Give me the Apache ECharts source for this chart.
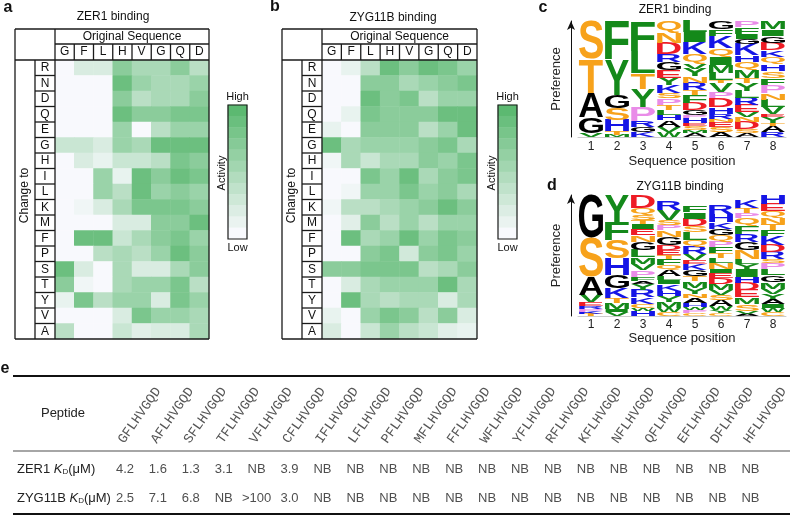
<!DOCTYPE html>
<html><head><meta charset="utf-8">
<script src="https://cdn.jsdelivr.net/npm/echarts@6/dist/echarts.min.js"></script>
<style>html,body{margin:0;padding:0;background:#fff}#c{width:791px;height:516px}</style>
</head><body><div id="c"></div>
<script>
// ---------------- data ----------------
const originalSeq = ['G','F','L','H','V','G','Q','D'];
const changeTo = ['R','N','D','Q','E','G','H','I','L','K','M','F','P','S','T','Y','V','A'];
const zer1Activity = [
  [0,2,2,7,5,5,7,4],
  [0,0,0,9,6,5,5,6],
  [0,0,0,7,4,5,5,7],
  [0,0,0,9,7,7,8,8],
  [0,0,0,6,0,4,6,6],
  [3,3,2,6,5,9,9,9],
  [0,2,1,3,3,4,8,7],
  [0,0,6,1,9,7,9,8],
  [0,0,6,4,9,6,7,6],
  [0,0.5,2,5,8,8,8,7],
  [0,0,0,2,2,7,7,9],
  [0,9,9,3,5,7,8,6],
  [0,0,4,5,4,6,9,7],
  [9,2,0,5,2,2,5,7],
  [7,0.5,0,5,6,6,8,4],
  [1,8,4,6,6,2,8,6],
  [0,0,0,2,8,6,6,5],
  [4,0,0,3,1.5,2,2,5]
];
const zyg11bActivity = [
  [0,1,4,9,7,9,8,6],
  [0,0,7,7,5,6,7,8],
  [0,0,9,7,8,4,6,6],
  [0,1,8,7,7,7,9,9],
  [1,0,7,7,7,4,6,9],
  [9,5,6,6,6,7,8,5],
  [0.5,5,3,5,5,7,6,8],
  [0,0,8,6,9,5,7,8],
  [0,0.5,6,6,8,6,7,5],
  [0.5,4,4,5,6,7,9,7],
  [0,1.5,7,4,6,4,6,6],
  [0,9,5,6,9,6,8,7],
  [0,0,7,8,2.5,7,8,6],
  [7,7,8,8,8,4,5,7],
  [0,2,5,6,6,6,9,5],
  [0,9,5,4,5,5,2,5],
  [1,0,6,8,7,4,7,2],
  [2,0,3,6,4,3,1.5,1]
];
const colorbarLevels = [10,9.1,8.2,7.3,6.4,5.5,4.5,3.6,2.7,1.8,0.9,0];
const logoPositions = ['1','2','3','4','5','6','7','8'];
// each position: letters listed top -> bottom, [letter, height]
const zer1Logo1 = [['S',38],['T',34],['A',24],['G',16],['V',4]];
const zer1Logo2 = [['F',39],['Y',35],['G',13],['S',12],['H',11],['T',4],['M',2]];
const zer1Logo3 = [['F',30],['L',22],['T',16],['Y',18],['P',14],['R',6],['G',5],['K',5]];
const zer1Logo4 = [['Q',12],['N',10],['D',11],['R',8],['G',8],['E',8],['Y',7],['K',8],['S',5],['P',7],['T',5],['L',5],['H',5],['A',7],['V',5],['W',5]];
const zer1Logo5 = [['L',11],['I',10],['K',12],['Q',10],['V',5],['Y',7],['N',7],['R',7],['T',5],['F',8],['D',7],['G',5],['P',3],['H',5],['E',3],['S',4],['M',3],['A',4]];
const zer1Logo6 = [['G',8],['F',7],['K',12],['Q',9],['I',8],['M',8],['L',7],['T',3],['V',9],['P',6],['D',9],['H',7],['R',5],['N',3],['E',5],['S',5],['A',5]];
const zer1Logo7 = [['P',6],['F',7],['I',5],['G',5],['K',11],['H',7],['Q',8],['M',8],['T',5],['Y',8],['L',7],['R',7],['E',7],['V',5],['N',5],['D',7],['S',4],['A',4]];
const zer1Logo8 = [['M',8],['I',7],['G',7],['D',7],['K',7],['Q',7],['H',7],['S',7],['F',7],['P',8],['N',7],['L',7],['V',7],['E',3],['Y',6],['T',3],['A',6],['R',5]];
const zyg11bLogo1 = [['G',43],['S',39],['A',18],['V',7],['E',4],['R',3],['P',3],['K',2],['T',2]];
const zyg11bLogo2 = [['Y',27],['F',18],['S',18],['H',17],['G',13],['K',10],['T',5],['M',6],['I',3],['V',4]];
const zyg11bLogo3 = [['D',13],['Q',7],['S',5],['T',4],['I',5],['E',6],['N',7],['G',8],['L',7],['M',7],['V',6],['P',7],['F',4],['A',3],['Y',6],['R',7],['K',7],['C',4],['W',3],['H',5]];
const zyg11bLogo4 = [['R',9],['V',10],['S',5],['P',5],['N',7],['G',8],['D',5],['E',5],['T',4],['F',6],['Q',5],['A',6],['L',4],['I',4],['K',7],['H',5],['Y',6],['M',6],['W',4],['C',4]];
const zyg11bLogo5 = [['F',7],['I',7],['D',7],['S',6],['L',8],['Q',6],['R',8],['V',6],['E',4],['K',6],['G',6],['T',5],['M',7],['Y',6],['N',4],['A',5],['H',4],['W',3],['P',3],['C',3]];
const zyg11bLogo6 = [['R',9],['H',8],['K',7],['G',6],['Q',6],['P',6],['F',6],['T',5],['L',5],['N',6],['I',4],['E',5],['D',6],['M',6],['V',5],['S',5],['A',6],['W',4],['Y',3],['C',3]];
const zyg11bLogo7 = [['K',8],['T',5],['P',5],['Q',8],['F',8],['R',8],['G',8],['N',9],['L',5],['Y',5],['I',8],['H',6],['D',7],['E',7],['M',7],['S',7],['V',3],['A',2]];
const zyg11bLogo8 = [['H',9],['E',7],['Q',7],['N',6],['T',6],['F',6],['K',9],['D',7],['R',7],['S',4],['P',6],['L',6],['G',7],['M',7],['V',5],['Y',5],['A',5],['I',4],['W',4],['C',4]];
const zer1Logo = [zer1Logo1,zer1Logo2,zer1Logo3,zer1Logo4,zer1Logo5,zer1Logo6,zer1Logo7,zer1Logo8];
const zyg11bLogo = [zyg11bLogo1,zyg11bLogo2,zyg11bLogo3,zyg11bLogo4,zyg11bLogo5,zyg11bLogo6,zyg11bLogo7,zyg11bLogo8];
const peptides = ['GFLHVGQD','AFLHVGQD','SFLHVGQD','TFLHVGQD','VFLHVGQD','CFLHVGQD','IFLHVGQD','LFLHVGQD','PFLHVGQD','MFLHVGQD','FFLHVGQD','WFLHVGQD','YFLHVGQD','RFLHVGQD','KFLHVGQD','NFLHVGQD','QFLHVGQD','EFLHVGQD','DFLHVGQD','HFLHVGQD'];
const tableRows = ['ZER1','ZYG11B'];
const zer1Kd = ['4.2','1.6','1.3','3.1','NB','3.9','NB','NB','NB','NB','NB','NB','NB','NB','NB','NB','NB','NB','NB','NB'];
const zyg11bKd = ['2.5','7.1','6.8','NB','>100','3.0','NB','NB','NB','NB','NB','NB','NB','NB','NB','NB','NB','NB','NB','NB'];

// ---------------- layout / style ----------------
const FF = '"Liberation Sans", Arial, sans-serif';
const HM = [{left:55, top:60, width:154, height:279}, {left:322, top:60, width:155, height:279}];
const CB = [{left:228, top:105, width:19, height:134}, {left:498, top:105, width:19, height:134}];
const LG = [{left:578, top:21, width:208, height:116}, {left:578, top:195, width:208, height:121}];
const TB = {left:104.5, top:455, width:662, height:58};
const letterColor = {S:'#F7A21B',T:'#F7A21B',Q:'#F7A21B',N:'#F7A21B',C:'#F7A21B',
  F:'#14891A',Y:'#14891A',L:'#14891A',I:'#14891A',V:'#14891A',M:'#14891A',W:'#14891A',
  G:'#000000',A:'#000000',K:'#1515E6',R:'#1515E6',H:'#1515E6',D:'#EE1C25',E:'#EE1C25',P:'#E98CE8'};
const LOGO_FONT = 'bold 100px "Liberation Sans", Arial, sans-serif';
const mctx = document.createElement('canvas').getContext('2d');
const mCache = {};
function metrics(ch){
  if (mCache[ch]) return mCache[ch];
  mctx.font = LOGO_FONT; mctx.textBaseline = 'middle'; mctx.textAlign = 'left';
  const m = mctx.measureText(ch);
  return mCache[ch] = {L:m.actualBoundingBoxLeft, R:m.actualBoundingBoxRight, A:m.actualBoundingBoxAscent, D:m.actualBoundingBoxDescent};
}

// ---------------- graphics (frames & static text) ----------------
const G = [];
function line(x1,y1,x2,y2,w,c){ G.push({type:'line',silent:true,z:50,shape:{x1,y1,x2,y2},style:{stroke:c||'#1a1a1a',lineWidth:w||1.3}}); }
function txt(t,x,y,o){ o=o||{}; G.push({type:'text',silent:true,z:50,x,y,rotation:o.rot||0,
  style:{text:t,fill:o.color||'#111',font:o.font||('12px '+FF),textAlign:o.align||'center',textVerticalAlign:o.va||'middle',align:o.align||'center',verticalAlign:o.va||'middle'}}); }
HM.forEach(h=>{
  const L=h.left,T=h.top,R=L+h.width,B=T+h.height,oL=L-40,oT=T-31,rl=L-20,hm=T-16;
  line(oL,oT,R,oT); line(oL,B,R,B); line(oL,oT,oL,B); line(R,oT,R,B);
  line(oL,T,R,T); line(L,hm,R,hm); line(L,oT,L,B); line(rl,T,rl,B);
  for(let k=1;k<originalSeq.length;k++){ const x=L+k*h.width/originalSeq.length; line(x,hm,x,T); }
  for(let k=1;k<changeTo.length;k++){ const y=T+k*h.height/changeTo.length; line(rl,y,L,y); }
  txt('Original Sequence',(L+R)/2,(oT+hm)/2+0.5,{font:'12px '+FF});
  txt('Change to',(oL+rl)/2,(T+B)/2-4,{rot:Math.PI/2,font:'12px '+FF});
});
CB.forEach(c=>{
  G.push({type:'rect',silent:true,z:50,shape:{x:c.left,y:c.top,width:c.width,height:c.height},style:{fill:null,stroke:'#1a1a1a',lineWidth:1.2}});
  txt('High',c.left+c.width/2,c.top-8,{font:'11px '+FF});
  txt('Low',c.left+c.width/2,c.top+c.height+9,{font:'11px '+FF});
  txt('Activity',c.left-6,c.top+c.height/2+1,{rot:Math.PI/2,font:'11px '+FF});
});
const bold = 'bold 16px '+FF;
txt('a',8,8,{font:bold}); txt('b',275,7,{font:bold}); txt('c',543,8,{font:bold}); txt('d',552,186,{font:bold}); txt('e',5,369,{font:bold});
txt('ZER1 binding',113,17); txt('ZYG11B binding',393,18);
txt('ZER1 binding',675,10); txt('ZYG11B binding',680,187);
line(13,376,790,376,2,'#111'); line(13,451,790,451,1.5,'#888'); line(13,514,790,514,2,'#111');
txt('Peptide',63,413,{font:'13px '+FF,color:'#222'});

// ---------------- series ----------------
function hmData(mat){ const d=[]; mat.forEach((row,r)=>row.forEach((v,c)=>d.push([c,r,v]))); return d; }
function logoSeries(logo, idx){
  const data = [];
  logo.forEach((col,p)=>{ let base=0; col.slice().reverse().forEach(([ch,h])=>{ data.push([p,base,base+h,ch]); base+=h; }); });
  return {type:'custom', xAxisIndex:idx, yAxisIndex:idx, silent:true, clip:false,
    dimensions:['p','y0','y1',{name:'ch',type:'ordinal'}], encode:{x:0,y:[1,2]}, data,
    renderItem(params, api){
      const p=api.value(0), y0=api.value(1), y1=api.value(2), ch=data[params.dataIndex][3];
      const b=api.coord([p,y0]), t=api.coord([p,y1]);
      const w=api.size([1,0])[0]*0.93, rh=b[1]-t[1];
      if (rh < 0.4) return null;
      const m=metrics(ch), sx=w/(m.L+m.R), sy=rh/(m.A+m.D);
      return {type:'text', x:b[0]-w/2+m.L*sx, y:t[1]+m.A*sy, scaleX:sx, scaleY:sy,
        style:{text:ch,x:0,y:0,font:LOGO_FONT,fill:letterColor[ch]||'#000',textAlign:'left',textVerticalAlign:'middle',align:'left',verticalAlign:'middle'}};
    }};
}
const catAxisCommon = {axisLine:{show:false},axisTick:{show:false},splitLine:{show:false}};
const option = {
  animation:false, backgroundColor:'#fff',
  grid:[...HM,...CB,...LG,TB].map(g=>({left:g.left,top:g.top,width:g.width,height:g.height,containLabel:false})),
  xAxis:[
    {gridIndex:0,type:'category',data:originalSeq,position:'top',...catAxisCommon,axisLabel:{interval:0,margin:8,verticalAlign:'middle',fontSize:12,color:'#111',fontFamily:FF}},
    {gridIndex:1,type:'category',data:originalSeq,position:'top',...catAxisCommon,axisLabel:{interval:0,margin:8,verticalAlign:'middle',fontSize:12,color:'#111',fontFamily:FF}},
    {gridIndex:2,type:'category',data:['c'],show:false},
    {gridIndex:3,type:'category',data:['c'],show:false},
    {gridIndex:4,type:'category',data:logoPositions,axisLine:{lineStyle:{color:'#ccc'}},axisTick:{show:false},axisLabel:{margin:4,fontSize:12,color:'#222',fontFamily:FF},
      name:'Sequence position',nameLocation:'middle',nameGap:18,nameTextStyle:{fontSize:13,color:'#222',fontFamily:FF}},
    {gridIndex:5,type:'category',data:logoPositions,axisLine:{lineStyle:{color:'#ccc'}},axisTick:{show:false},axisLabel:{margin:3,fontSize:12,color:'#222',fontFamily:FF},
      name:'Sequence position',nameLocation:'middle',nameGap:14,nameTextStyle:{fontSize:13,color:'#222',fontFamily:FF}},
    {gridIndex:6,type:'category',data:peptides,position:'top',...catAxisCommon,axisLabel:{interval:0,rotate:-55,margin:13,fontSize:13.5,color:'#555',fontFamily:'"Liberation Mono", "Courier New", monospace'}}
  ],
  yAxis:[
    {gridIndex:0,type:'category',data:changeTo,inverse:true,...catAxisCommon,axisLabel:{interval:0,margin:10,align:'center',fontSize:12,color:'#111',fontFamily:FF}},
    {gridIndex:1,type:'category',data:changeTo,inverse:true,...catAxisCommon,axisLabel:{interval:0,margin:10,align:'center',fontSize:12,color:'#111',fontFamily:FF}},
    {gridIndex:2,type:'category',data:colorbarLevels.map(String),inverse:true,show:false},
    {gridIndex:3,type:'category',data:colorbarLevels.map(String),inverse:true,show:false},
    {gridIndex:4,type:'value',min:0,max:116,offset:7,splitLine:{show:false},axisLabel:{show:false},axisTick:{show:false},
      axisLine:{show:true,symbol:['none','arrow'],symbolSize:[6,9],lineStyle:{color:'#111',width:1}},
      name:'Preference',nameLocation:'middle',nameGap:8,nameTextStyle:{fontSize:13,color:'#222',fontFamily:FF}},
    {gridIndex:5,type:'value',min:0,max:121,offset:7,splitLine:{show:false},axisLabel:{show:false},axisTick:{show:false},
      axisLine:{show:true,symbol:['none','arrow'],symbolSize:[6,9],lineStyle:{color:'#111',width:1}},
      name:'Preference',nameLocation:'middle',nameGap:8,nameTextStyle:{fontSize:13,color:'#222',fontFamily:FF}},
    {gridIndex:6,type:'category',data:tableRows,inverse:true,...catAxisCommon,
      axisLabel:{margin:87.5,align:'left',formatter:v=>'{n|'+v+' }{k|K}{d|D}{n|(μM)}',
        rich:{n:{fontSize:13,color:'#222',fontFamily:FF},k:{fontSize:13,color:'#222',fontStyle:'italic',fontFamily:FF},d:{fontSize:8,color:'#222',fontFamily:FF,padding:[5,0,0,0]}}}}
  ],
  visualMap:{show:false,min:0,max:10,dimension:2,seriesIndex:[0,1,2,3],inRange:{color:['#f8f9fd','#5cb971']}},
  series:[
    {type:'heatmap',xAxisIndex:0,yAxisIndex:0,data:hmData(zer1Activity),silent:true,itemStyle:{borderWidth:0}},
    {type:'heatmap',xAxisIndex:1,yAxisIndex:1,data:hmData(zyg11bActivity),silent:true,itemStyle:{borderWidth:0}},
    {type:'heatmap',xAxisIndex:2,yAxisIndex:2,data:colorbarLevels.map((v,i)=>[0,i,v]),silent:true},
    {type:'heatmap',xAxisIndex:3,yAxisIndex:3,data:colorbarLevels.map((v,i)=>[0,i,v]),silent:true},
    logoSeries(zer1Logo,4),
    logoSeries(zyg11bLogo,5),
    {type:'scatter',xAxisIndex:6,yAxisIndex:6,symbolSize:1,silent:true,itemStyle:{color:'rgba(0,0,0,0)'},
      label:{show:true,position:'inside',offset:[4,0],formatter:p=>p.name,fontSize:13,color:'#222',fontFamily:FF},
      data:[...zer1Kd.map((v,i)=>({value:[i,0],name:v})),...zyg11bKd.map((v,i)=>({value:[i,1],name:v}))]}
  ],
  graphic:G
};
const chart = echarts.init(document.getElementById('c'));
chart.setOption(option);
</script></body></html>
